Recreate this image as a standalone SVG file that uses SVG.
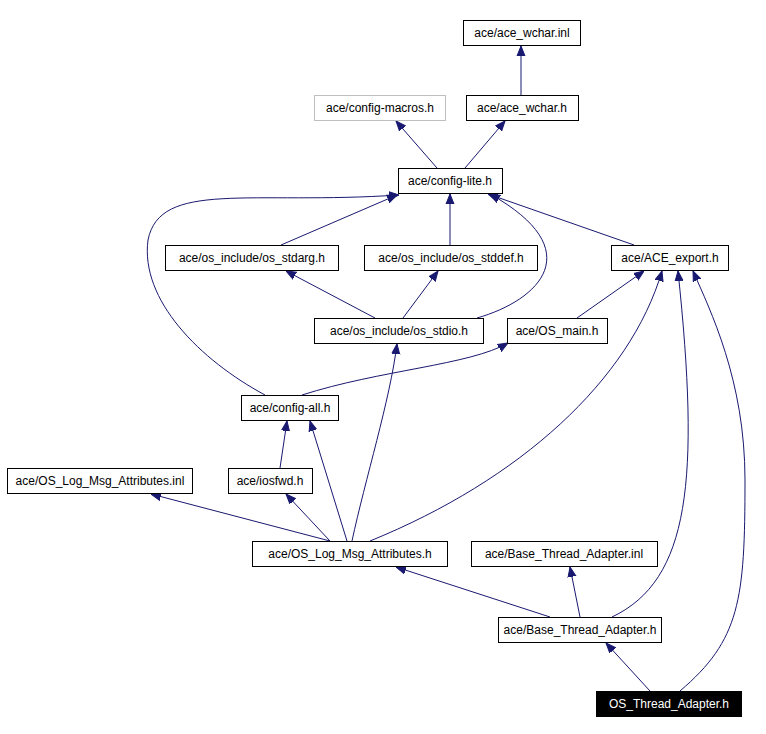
<svg xmlns="http://www.w3.org/2000/svg" width="766" height="734" viewBox="0 0 766 734">
<style>
.n rect{fill:#fff;stroke:#000;stroke-width:1}
.n text{font-family:"Liberation Sans",Arial,sans-serif;font-size:12px;text-anchor:middle;fill:#000}
#edges path{fill:none;stroke:#191970;stroke-width:1;marker-end:url(#a)}
</style>
<defs><marker id="a" viewBox="0 0 10 10" refX="10" refY="5" markerWidth="10" markerHeight="10" markerUnits="userSpaceOnUse" orient="auto"><path d="M0,1 L10,5 L0,9 Z" fill="#191970" stroke="#191970"/></marker></defs>
<rect width="766" height="734" fill="#fff"/>
<g id="edges">
<path d="M521,95 L521,46"/>
<path d="M437,168 L396,121"/>
<path d="M465,168 L505,121"/>
<path d="M281,245 L397,195"/>
<path d="M450,245 L450,194"/>
<path d="M634,245 L488,194"/>
<path d="M375,318 L286,271"/>
<path d="M403,318 L438,271"/>
<path d="M477,318 C540,300 590,250 490,194"/>
<path d="M577,318 L644,271"/>
<path d="M302,395 C380,370 470,365 508,343"/>
<path d="M265,395 C200,360 140,300 148,240 C160,180 250,205 399,195"/>
<path d="M280,468 L287,421"/>
<path d="M330,541 L151,494"/>
<path d="M330,541 L286,494"/>
<path d="M347,541 L310,421"/>
<path d="M352,541 C365,480 390,400 397,344"/>
<path d="M370,541 C520,480 630,380 662,271"/>
<path d="M550,617 L396,567"/>
<path d="M580,617 L570,567"/>
<path d="M612,617 C690,580 700,480 678,271"/>
<path d="M650,691 L606,643"/>
<path d="M680,691 C740,640 745,600 745,480 C745,380 710,310 693,271"/>
</g>
<g id="n1" class="n"><rect x="463.5" y="20.5" width="117" height="25"/><text x="522" y="37">ace/ace_wchar.inl</text></g>
<g id="n2" class="n"><rect x="466.5" y="95.5" width="112" height="25"/><text x="522" y="112">ace/ace_wchar.h</text></g>
<g id="n3" class="n"><rect x="314.5" y="95.5" width="131" height="25" style="stroke:#bfbfbf"/><text x="380" y="112">ace/config-macros.h</text></g>
<g id="n4" class="n"><rect x="398.5" y="168.5" width="104" height="25"/><text x="450" y="185">ace/config-lite.h</text></g>
<g id="n5" class="n"><rect x="165.5" y="245.5" width="173" height="25"/><text x="252" y="262">ace/os_include/os_stdarg.h</text></g>
<g id="n6" class="n"><rect x="364.5" y="245.5" width="173" height="25"/><text x="451" y="262">ace/os_include/os_stddef.h</text></g>
<g id="n7" class="n"><rect x="611.5" y="245.5" width="117" height="25"/><text x="670" y="262">ace/ACE_export.h</text></g>
<g id="n8" class="n"><rect x="314.5" y="318.5" width="169" height="25"/><text x="399" y="335">ace/os_include/os_stdio.h</text></g>
<g id="n9" class="n"><rect x="507.5" y="318.5" width="100" height="25"/><text x="557" y="335">ace/OS_main.h</text></g>
<g id="n10" class="n"><rect x="241.5" y="395.5" width="97" height="25"/><text x="290" y="412">ace/config-all.h</text></g>
<g id="n11" class="n"><rect x="7.5" y="468.5" width="185" height="25"/><text x="100" y="485">ace/OS_Log_Msg_Attributes.inl</text></g>
<g id="n12" class="n"><rect x="228.5" y="468.5" width="84" height="25"/><text x="270" y="485">ace/iosfwd.h</text></g>
<g id="n13" class="n"><rect x="252.5" y="541.5" width="195" height="25"/><text x="350" y="558">ace/OS_Log_Msg_Attributes.h</text></g>
<g id="n14" class="n"><rect x="471.5" y="541.5" width="186" height="25"/><text x="564" y="558">ace/Base_Thread_Adapter.inl</text></g>
<g id="n15" class="n"><rect x="498.5" y="617.5" width="163" height="25"/><text x="580" y="634">ace/Base_Thread_Adapter.h</text></g>
<g id="n16" class="n"><rect x="596.5" y="691.5" width="145" height="25" style="fill:#000"/><text x="669" y="708" style="fill:#fff">OS_Thread_Adapter.h</text></g>
</svg>
